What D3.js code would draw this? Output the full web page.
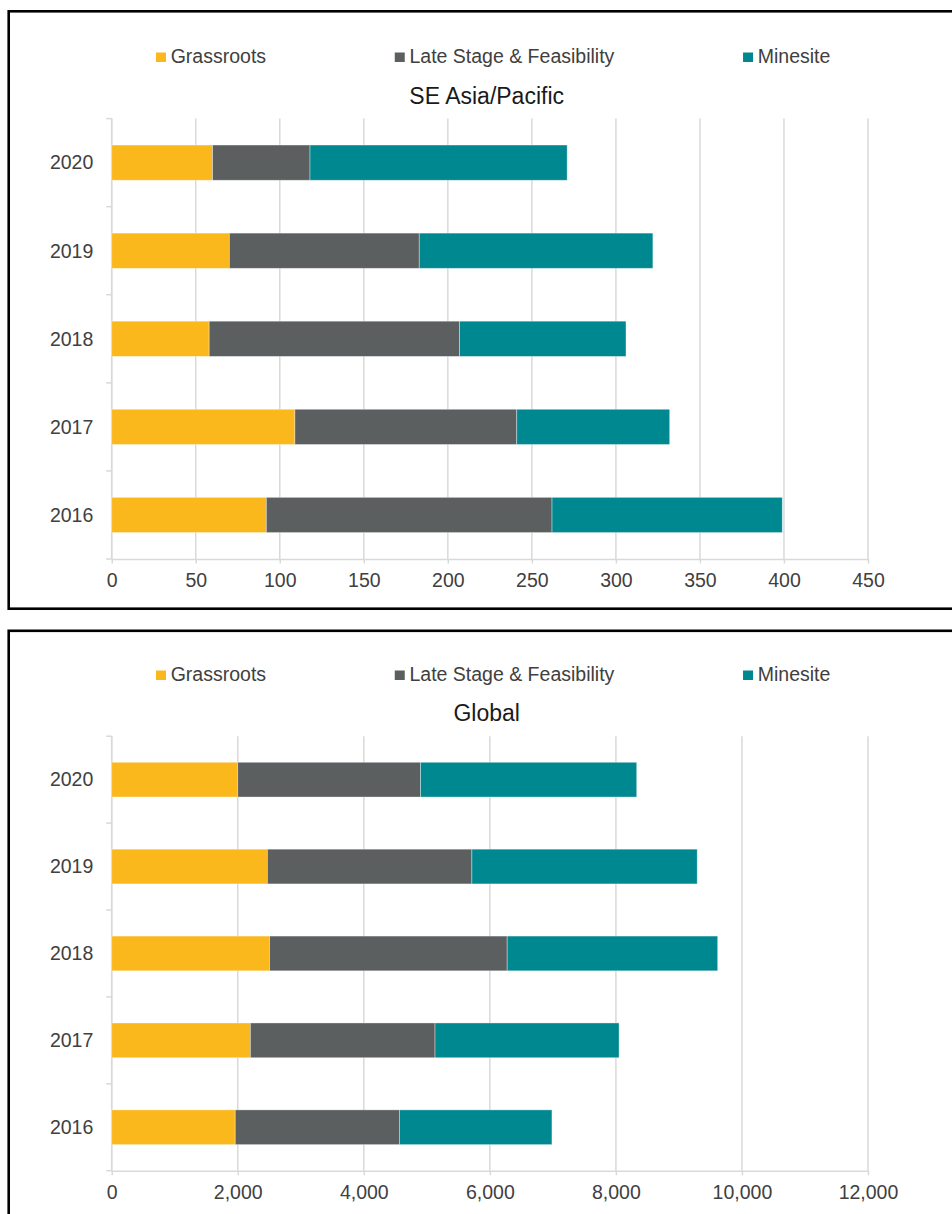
<!DOCTYPE html>
<html lang="en">
<head>
<meta charset="UTF-8">
<title>exploration-budgets</title>
<style>
    body {
        margin: 0;
        background: #fff;
    }
    svg text {
        font-family: Arial, "Liberation Sans", sans-serif;
    }
</style>
<script src="https://d3js.org/d3.v7.min.js"></script>
</head>
<body>

<script>

    // categories, top to bottom
    let years = ["2020", "2019", "2018", "2017", "2016"]
    let seriesNames = ["Grassroots", "Late Stage & Feasibility", "Minesite"]
    let seriesColors = ["#fab81d", "#5c5f60", "#008891"]

    // SE Asia/Pacific, per year in the same order as years
    let seaGrassroots = [60, 70, 58, 109, 92]
    let seaLateStage = [58, 113, 149, 132, 170]
    let seaMinesite = [153, 139, 99, 91, 137]
    let seaTicks = [0, 50, 100, 150, 200, 250, 300, 350, 400, 450]

    // Global
    let globalGrassroots = [2000, 2470, 2505, 2200, 1960]
    let globalLateStage = [2900, 3245, 3770, 2930, 2605]
    let globalMinesite = [3430, 3575, 3340, 2920, 2420]
    let globalTicks = [0, 2000, 4000, 6000, 8000, 10000, 12000]

    let width = 952
    let height = 1214
    let gridColor = "#d9d9d9"
    let textColor = "#404040"

    let svg = d3.select("body").append("svg")
        .attr("width", width)
        .attr("height", height)

    function drawPanel(opts) {
        let g = svg.append("g")

        // panel frame, runs off the right edge
        g.append("rect")
            .attr("x", 8.7)
            .attr("y", opts.frameTop)
            .attr("width", 980)
            .attr("height", opts.frameHeight)
            .attr("fill", "#fff")
            .attr("stroke", "#000")
            .attr("stroke-width", 2.6)

        // legend
        let legend = g.append("g")
            .attr("transform", "translate(0," + opts.legendY + ")")
        let lx = 156
        seriesNames.forEach(function (name, i) {
            legend.append("rect")
                .attr("x", lx)
                .attr("y", -10)
                .attr("width", 10)
                .attr("height", 9.5)
                .attr("fill", seriesColors[i])
            let t = legend.append("text")
                .attr("x", lx + 14.7)
                .attr("y", 0)
                .attr("font-size", "19.5px")
                .attr("fill", textColor)
                .text(name)
            lx += 14.7 + t.node().getComputedTextLength() + 128.7
        })

        g.append("text")
            .attr("x", 486.7)
            .attr("y", opts.titleY)
            .attr("text-anchor", "middle")
            .attr("font-size", "23px")
            .attr("fill", "#1a1a1a")
            .text(opts.title)

        let x = d3.scaleLinear()
            .domain([0, opts.ticks[opts.ticks.length - 1]])
            .range([111.7, 868])

        let y = d3.scaleBand()
            .domain(years)
            .range([opts.plotTop, opts.plotBottom])
            .paddingInner(0.6)
            .paddingOuter(0.3)

        // vertical gridlines
        g.append("g")
            .selectAll("line")
            .data(opts.ticks)
            .enter()
            .append("line")
            .attr("x1", function (d) { return x(d) })
            .attr("x2", function (d) { return x(d) })
            .attr("y1", opts.plotTop)
            .attr("y2", opts.plotBottom)
            .attr("stroke", gridColor)
            .attr("stroke-width", 1.5)

        // x axis
        let xAxis = g.append("g")
            .attr("transform", "translate(0," + opts.plotBottom + ")")
            .call(d3.axisBottom(x)
                .tickValues(opts.ticks)
                .tickFormat(opts.format)
                .tickSizeInner(4.5)
                .tickSizeOuter(0)
                .tickPadding(10))
        xAxis.select(".domain").attr("stroke", gridColor).attr("stroke-width", 1.5)
        xAxis.selectAll(".tick line").attr("stroke", gridColor).attr("stroke-width", 1.5)
        xAxis.selectAll(".tick text")
            .attr("font-size", "19.5px")
            .attr("font-family", "Arial, 'Liberation Sans', sans-serif")
            .attr("fill", textColor)

        // y axis: ticks sit on the band boundaries
        let yAxis = g.append("g")
            .attr("transform", "translate(111.7,0)")
        yAxis.append("line")
            .attr("x1", 0).attr("x2", 0)
            .attr("y1", opts.plotTop).attr("y2", opts.plotBottom)
            .attr("stroke", gridColor)
            .attr("stroke-width", 1.5)
        let step = y.step()
        yAxis.selectAll(".ytick")
            .data(d3.range(years.length + 1))
            .enter()
            .append("line")
            .attr("class", "ytick")
            .attr("x1", -5.5).attr("x2", 0)
            .attr("y1", function (k) { return opts.plotTop + k * step })
            .attr("y2", function (k) { return opts.plotTop + k * step })
            .attr("stroke", gridColor)
            .attr("stroke-width", 1.5)
        yAxis.selectAll(".ylabel")
            .data(years)
            .enter()
            .append("text")
            .attr("class", "ylabel")
            .attr("x", -18.4)
            .attr("y", function (d) { return y(d) + y.bandwidth() / 2 })
            .attr("dy", "0.35em")
            .attr("text-anchor", "end")
            .attr("font-size", "19.5px")
            .attr("fill", textColor)
            .text(function (d) { return d })

        // stacked bars
        let rows = years.map(function (yr, i) {
            let row = {year: yr}
            seriesNames.forEach(function (name, s) {
                row[name] = opts.values[s][i]
            })
            return row
        })
        let stacked = d3.stack().keys(seriesNames)(rows)

        g.append("g")
            .selectAll("g")
            .data(stacked)
            .enter()
            .append("g")
            .attr("fill", function (d, i) { return seriesColors[i] })
            .selectAll("rect")
            .data(function (d) { return d })
            .enter()
            .append("rect")
            .attr("x", function (d) { return x(d[0]) })
            .attr("width", function (d) { return x(d[1]) - x(d[0]) })
            .attr("y", function (d) { return y(d.data.year) })
            .attr("height", y.bandwidth())
            .attr("stroke", "#fff")
            .attr("stroke-opacity", 0.45)
            .attr("stroke-width", 0.8)
    }

    drawPanel({
        title: "SE Asia/Pacific",
        frameTop: 11.3,
        frameHeight: 597.4,
        legendY: 62.5,
        titleY: 104,
        plotTop: 118.6,
        plotBottom: 559,
        ticks: seaTicks,
        format: d3.format("d"),
        values: [seaGrassroots, seaLateStage, seaMinesite]
    })

    drawPanel({
        title: "Global",
        frameTop: 630.8,
        frameHeight: 620,
        legendY: 680.5,
        titleY: 721,
        plotTop: 736.2,
        plotBottom: 1170.7,
        ticks: globalTicks,
        format: d3.format(","),
        values: [globalGrassroots, globalLateStage, globalMinesite]
    })

</script>

</body>
</html>
